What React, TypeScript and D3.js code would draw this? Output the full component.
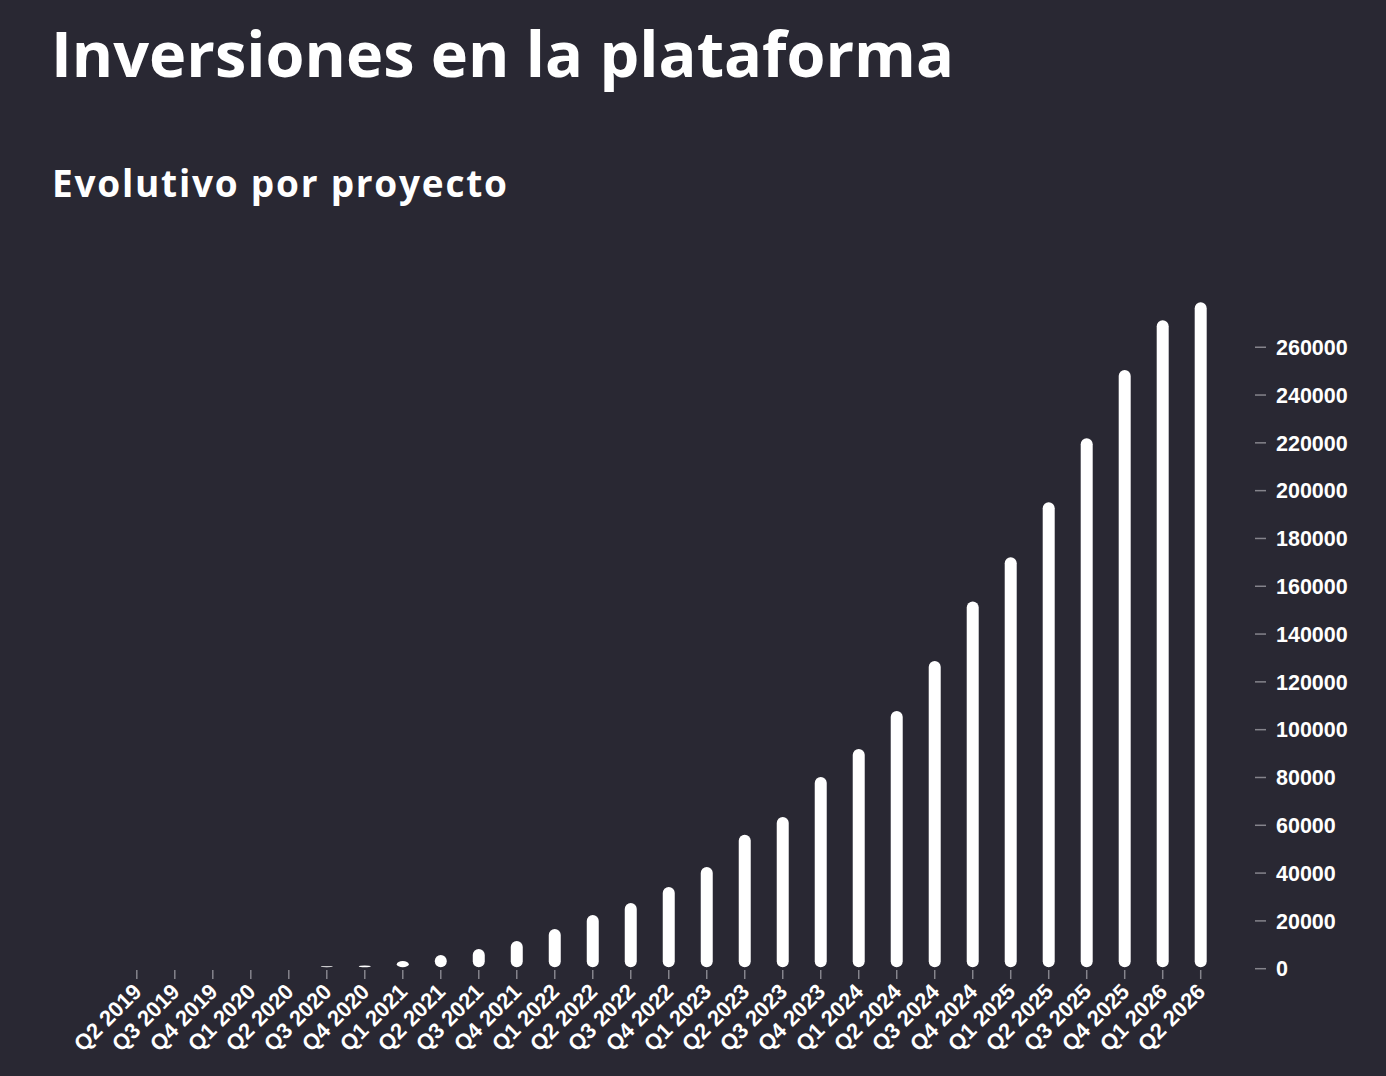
import * as d3 from 'd3';

const quarters = [
	'Q2 2019', 'Q3 2019', 'Q4 2019', 'Q1 2020', 'Q2 2020', 'Q3 2020', 'Q4 2020',
	'Q1 2021', 'Q2 2021', 'Q3 2021', 'Q4 2021', 'Q1 2022', 'Q2 2022', 'Q3 2022',
	'Q4 2022', 'Q1 2023', 'Q2 2023', 'Q3 2023', 'Q4 2023', 'Q1 2024', 'Q2 2024',
	'Q3 2024', 'Q4 2024', 'Q1 2025', 'Q2 2025', 'Q3 2025', 'Q4 2025', 'Q1 2026', 'Q2 2026',
];

const inversiones = [
	0, 0, 0, 0, 0, 500, 1300,
	3200, 5700, 8200, 11600, 16600, 22500, 27500,
	34200, 42600, 56000, 63500, 80200, 91900, 107800,
	128700, 153600, 172100, 195100, 221900, 250500, 271300, 278800,
];

const yTicks = [0, 20000, 40000, 60000, 80000, 100000, 120000, 140000, 160000, 180000, 200000, 220000, 240000, 260000];

const title = 'Inversiones en la plataforma';
const subtitle = 'Evolutivo por proyecto';

const W = 1386;
const H = 1076;
const BG = '#292833';
const TICK = '#85848c';

export default function App() {
	// plot area
	const y0 = 968.7;
	const yTop = 302.3;
	const barW = 12;

	const x = d3.scalePoint<string>().domain(quarters).range([136.8, 1200.7]);
	const y = d3
		.scaleLinear()
		.domain([0, d3.max(inversiones) as number])
		.range([y0, yTop]);

	const axisX = 1255;

	return (
		<div style={{ position: 'absolute', left: 0, top: 0, width: W, height: H, background: BG }}>
			<svg width={W} height={H} style={{ display: 'block' }}>
				<rect width={W} height={H} fill={BG} />

				<text
					x={51}
					y={77}
					fill="#fff"
					fontFamily="'Open Sans', Lato, sans-serif"
					fontWeight={700}
					fontSize={63}
					textLength={903}
					lengthAdjust="spacing"
				>
					{title}
				</text>
				<text
					x={52}
					y={197}
					fill="#fff"
					fontFamily="'Open Sans', Lato, sans-serif"
					fontWeight={700}
					fontSize={37}
					textLength={455}
					lengthAdjust="spacing"
				>
					{subtitle}
				</text>

				{/* bars */}
				{inversiones.map((v, i) => {
					const top = y(v);
					const h = Math.max(0, y0 - 1.5 - top);
					if (v <= 0) return null;
					return (
						<rect
							key={quarters[i]}
							x={(x(quarters[i]) as number) - barW / 2}
							y={Math.min(top, y0 - 2.5)}
							width={barW}
							height={Math.max(h, 1)}
							rx={6}
							ry={6}
							fill="#ffffff"
						/>
					);
				})}

				{/* x axis */}
				<g fontFamily="'Liberation Sans', Arial, sans-serif" fontWeight={700} fontSize={22} fill="#fff">
					{quarters.map((q) => {
						const cx = x(q) as number;
						return (
							<g key={q}>
								<line x1={cx} x2={cx} y1={970} y2={979} stroke={TICK} strokeWidth={1.5} />
								<text transform={`translate(${cx + 6},${993}) rotate(-45)`} textAnchor="end">
									{q}
								</text>
							</g>
						);
					})}
				</g>

				{/* y axis on the right */}
				<g fontFamily="'Liberation Sans', Arial, sans-serif" fontWeight={700} fontSize={21.5} fill="#fff">
					{yTicks.map((t) => (
						<g key={t} transform={`translate(0,${y(t)})`}>
							<line x1={axisX} x2={axisX + 11} stroke={TICK} strokeWidth={1.5} />
							<text x={axisX + 21} dy="0.36em">
								{t}
							</text>
						</g>
					))}
				</g>
			</svg>
		</div>
	);
}
